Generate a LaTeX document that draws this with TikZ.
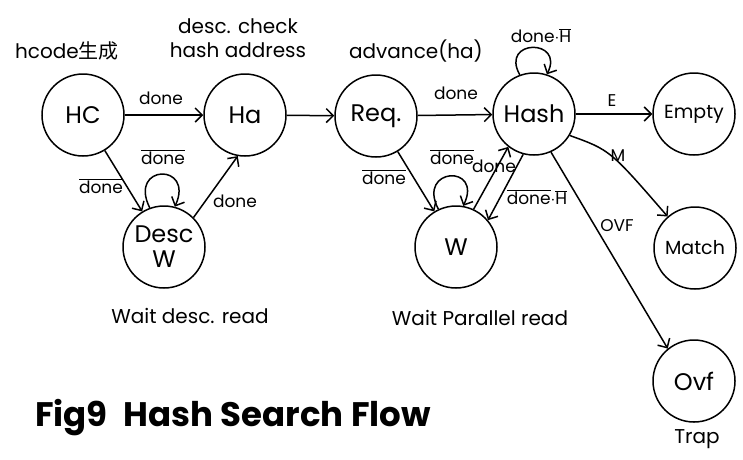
\documentclass[tikz,border=0pt]{standalone}
\usepackage{fontspec}
\setmainfont{Poppins}
\newfontfamily\cjk{Noto Sans CJK JP}
\usetikzlibrary{arrows.meta}
% a word with a bar over it (negated signal)
\newcommand\ovl[1]{$\overline{\mbox{#1}}$}
\begin{document}
\begin{tikzpicture}[x=1pt,y=-1pt,
  state/.style={circle,draw,line width=1.5pt,minimum size=82pt,inner sep=0pt,
    align=center,font=\fontsize{24}{25}\selectfont},
  small state/.style={state,font=\fontsize{19}{21}\selectfont},
  lbl/.style={inner sep=1pt,font=\fontsize{17}{19}\selectfont},
  note/.style={inner sep=1pt,align=center,font=\fontsize{20}{24}\selectfont},
  arr/.style={-{Straight Barb[length=7pt,width=14pt,line width=1.5pt]},line width=1.5pt}]
\useasboundingbox (0,0) rectangle (743,459);

% states
\node[state] (HC)    at (83,115)  {HC};
\node[state] (Ha)    at (245,115) {Ha};
\node[state] (DW)    at (164,247) {Desc\\W};
\node[state] (Req)   at (376,116) {Req.};
\node[state] (Hash)  at (534,114) {Hash};
\node[small state] (Empty) at (694,114) {Empty};
\node[state] (W)     at (456,247) {W};
\node[small state] (Match) at (695,248) {Match};
\node[state] (Ovf)   at (694,381) {Ovf};

% transitions
\draw[arr] (HC) -- (Ha);
\draw[arr] (Ha) -- (Req);
\draw[arr] (Req) -- (Hash);
\draw[arr] (Hash) -- (Empty);
\draw[arr] (Hash.329) .. controls (610,150) .. (Match.131);
\draw[arr] (Hash.294) -- (Ovf.129);
\draw[arr] (HC) -- (DW);
\draw[arr] (DW.45) -- (Ha.260);
\draw[arr] (Req) -- (W);
\draw[arr] (W.65) -- (Hash.232);
\draw[arr] (Hash.255) -- (W.40);

% self loops
\draw[arr] (Hash.110) .. controls +(-20,-36) and +(18,-36) .. (Hash.72);
\draw[arr] (DW.110) .. controls +(-22,-44) and +(20,-44) .. (DW.75);
\draw[arr] (W.115) .. controls +(-22,-42) and +(20,-42) .. (W.80);

% transition labels
\node[lbl] (lHCHa)   at (161,98)  {done};
\node[lbl] (lReqH)   at (456,93)  {done};
\node[lbl] (lE)      at (612,101) {E};
\node[lbl] (lM)      at (618,156) {M};
\node[lbl] (lOVF)    at (617,226) {OVF};
\node[lbl] (lHCDW)   at (101,186) {\ovl{done}};
\node[lbl] (lDWloop) at (163,157) {\ovl{done}};
\node[lbl] (lDWHa)   at (235,201) {done};
\node[lbl] (lReqW)   at (384,177) {\ovl{done}};
\node[lbl] (lWloop)  at (452,157) {\ovl{done}};
\node[lbl] (lWH)     at (494,166) {done};
\node[lbl] (lHW)     at (537,197) {\ovl{done}$\cdot$\ovl{H}};
\node[lbl] (lHloop)  at (541,36)  {done$\cdot$\ovl{H}};

% captions
\node[note] (cHC)   at (67,51)   {hcode{\cjk 生成}};
\node[note] (cHa)   at (238,38)  {desc. check\\hash address};
\node[note] (cReq)  at (416,51)  {advance(ha)};
\node[note] (cDW)   at (190,316) {Wait desc. read};
\node[note] (cW)    at (480,318) {Wait Parallel read};
\node[note] (cOvf)  at (697,439) {Trap};
\node[inner sep=0pt,font=\bfseries\fontsize{34}{38}\selectfont] (title) at (233,418)
  {Fig9\hspace{16pt}Hash Search Flow};
\end{tikzpicture}
\end{document}
